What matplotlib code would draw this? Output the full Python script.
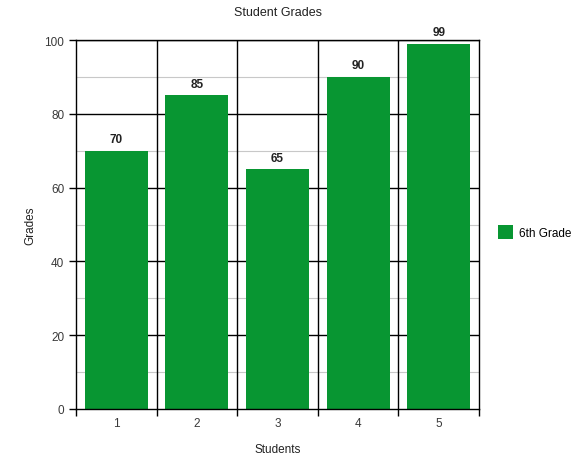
import matplotlib.pyplot as plt
import numpy as np

plt.rcParams['font.family'] = ['Liberation Sans', 'DejaVu Sans']

students = ['1', '2', '3', '4', '5']
grades = [70, 85, 65, 90, 99]
series_name = '6th Grade'

green = '#089632'
x = np.arange(len(students))

fig = plt.figure(figsize=(5.87, 4.56), dpi=100)
ax = fig.add_axes([0.1295, 0.1009, 0.816 - 0.1295, 0.910 - 0.1009])

# grid behind bars
for y in range(10, 100, 20):
    ax.axhline(y, color='#c8c8c8', lw=0.8, zorder=0)
for y in range(20, 101, 20):
    ax.axhline(y, color='black', lw=1.0, zorder=0)
for b in np.arange(0.5, len(students) - 0.5, 1):
    ax.axvline(b, color='black', lw=1.0, zorder=0)

bars = ax.bar(x, grades, width=0.78, color=green, zorder=2, label=series_name)
for xi, g in zip(x, grades):
    ax.text(xi, g + 1.5, str(g), ha='center', va='bottom', fontsize=8.5,
            fontweight='bold', color='#222222')

ax.set_xlim(-0.5, len(students) - 0.5)
ax.set_ylim(0, 100)
ax.set_yticks(range(0, 101, 20))
ax.set_xticks(x)
ax.set_xticklabels(students)
ax.set_xticks(np.arange(-0.5, len(students), 1), minor=True)
ax.tick_params(axis='x', which='major', length=0, pad=6)
ax.tick_params(axis='x', which='minor', length=5, width=1)
ax.tick_params(axis='y', length=5, width=1)
ax.tick_params(labelsize=8.5, labelcolor='#3a3a3a')
for s in ax.spines.values():
    s.set_linewidth(1.0)
    s.set_color('black')

ax.set_title('Student Grades', fontsize=9, color='#222222', pad=18)
ax.set_xlabel('Students', fontsize=8.5, color='#222222', labelpad=10)
ax.set_ylabel('Grades', fontsize=8.5, color='#222222', labelpad=6)

ax.legend(loc='center left', bbox_to_anchor=(1.02, 0.48), frameon=False,
          fontsize=8.5, handlelength=1.3, handleheight=1.4, handletextpad=0.5)

fig.savefig('out.png', dpi=100)
